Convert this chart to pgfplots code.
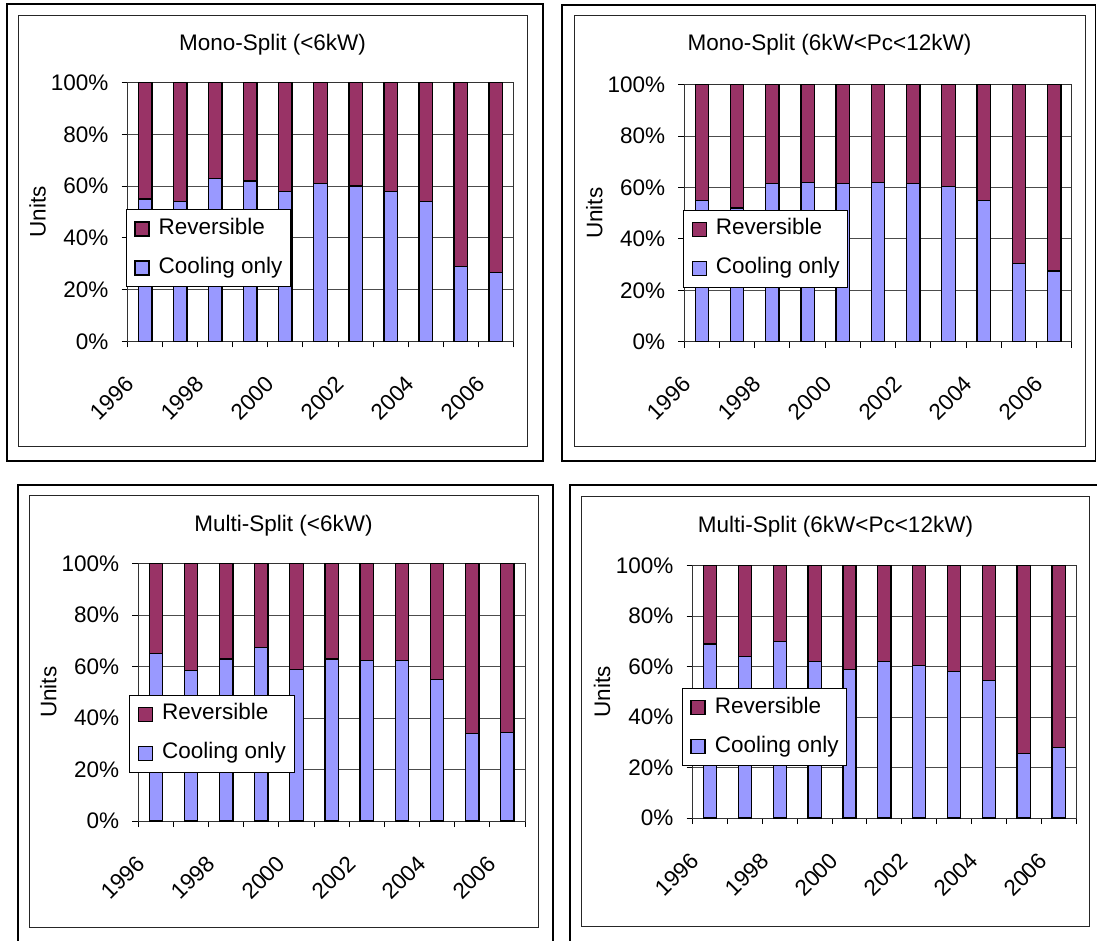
\documentclass[border=0pt]{standalone}
\usepackage{fontspec}
\setmainfont{Liberation Sans}
\usepackage{pgfplots}
\usepackage{pgfplotstable}
\pgfplotsset{compat=1.18}
\definecolor{cool}{HTML}{9999FF}
\definecolor{rev}{HTML}{993366}
\newcommand{\fs}{\fontsize{22.5}{27}\selectfont}

\pgfplotstableread{
x cool rev
0 55 45
1 54 46
2 63 37
3 62 38
4 58 42
5 61 39
6 60 40
7 58 42
8 54 46
9 29 71
10 26.5 73.5
}\monoA
\pgfplotstableread{
x cool rev
0 55 45
1 52 48
2 61.5 38.5
3 62 38
4 61.5 38.5
5 62 38
6 61.5 38.5
7 60.5 39.5
8 55 45
9 30.5 69.5
10 27.5 72.5
}\monoB
\pgfplotstableread{
x cool rev
0 65 35
1 58.5 41.5
2 63 37
3 67.5 32.5
4 59 41
5 63 37
6 62.5 37.5
7 62.5 37.5
8 55 45
9 34 66
10 34.5 65.5
}\multiA
\pgfplotstableread{
x cool rev
0 69 31
1 64 36
2 70 30
3 62 38
4 59 41
5 62 38
6 60.5 39.5
7 58 42
8 54.5 45.5
9 25.5 74.5
10 28 72
}\multiB

\pgfplotsset{
 panel/.style={
   scale only axis,
   xmin=-0.5, xmax=10.5, ymin=0, ymax=100,
   enlargelimits=false,
   ybar stacked, bar width=0.38,
   axis line style={black!80, line width=1pt},
   tick align=outside,
   xtick pos=bottom, ytick pos=left,
   xtick={-0.5,0.5,...,10.5}, xticklabels={},
   major tick length=6pt,
   tick style={black, line width=1pt},
   extra x ticks={0,2,4,6,8,10},
   extra x tick labels={1996,1998,2000,2002,2004,2006},
   extra x tick style={major tick length=0pt, xticklabel style={rotate=45, anchor=north east, inner sep=0pt, xshift=-38.2pt, yshift=-8.5pt}},
   ytick={0,20,...,100},
   yticklabels={0\%,20\%,40\%,60\%,80\%,100\%},
   yticklabel style={anchor=east, inner sep=0pt, xshift=-13pt},
   ymajorgrids, grid style={black!70, line width=1pt},
   tick label style={font=\fs},
   ylabel=Units, ylabel style={font=\fs, anchor=center},
   legend style={draw=black, fill=white, line width=1pt, anchor=north west,
     inner xsep=8pt, inner ysep=8.5pt, row sep=18pt, column sep=9pt, font=\fs,
     nodes={inner sep=0pt, text height=16pt, text depth=5pt}, cells={anchor=west}},
   legend image code/.code={\draw[#1, draw=black, line width=1.3pt] (0pt,-7pt) rectangle (14pt,7pt);},
   reverse legend,
 },
 cbar/.style={fill=cool, draw=black, line width=1.3pt},
 rbar/.style={fill=rev, draw=black, line width=1.3pt},
}

\begin{document}
\begin{tikzpicture}[x=1pt,y=1pt]
\useasboundingbox (0,0) rectangle (1097,-940);
% frames
\draw[line width=1.7pt] (7,-4.3) rectangle (543,-461);
\draw[line width=1pt, black!85] (18.2,-15) rectangle (527,-446.7);
\draw[line width=1.7pt] (562.3,-4.7) rectangle (1095.5,-461);
\draw[line width=1pt, black!85] (574,-15) rectangle (1085,-446.7);
\draw[line width=1.9pt] (17.7,-484.7) rectangle (552.7,-945);
\draw[line width=1pt, black!85] (29,-495.7) rectangle (538,-927.7);
\draw[line width=1.9pt] (570,-485) rectangle (1100,-945);
\draw[line width=1pt, black!85] (581.7,-496) rectangle (1089.3,-926.7);
% titles
\node[font=\fs, anchor=base] at (272.5,-50) {Mono-Split (<6kW)};
\node[font=\fs, anchor=base] at (829.5,-50) {Mono-Split (6kW<Pc<12kW)};
\node[font=\fs, anchor=base] at (283.5,-531.7) {Multi-Split (<6kW)};
\node[font=\fs, anchor=base] at (835.5,-532.3) {Multi-Split (6kW<Pc<12kW)};

\begin{axis}[panel, at={(127.7pt,-341.3pt)}, anchor=south west, width=385.6pt, height=258.6pt,
  legend style={at={(axis description cs:-0.005,0.510)}},
  ylabel style={at={(axis description cs:-0.2334,0.5)}}]
\addplot[cbar] table[x=x,y=cool]{\monoA};
\addplot[rbar] table[x=x,y=rev]{\monoA};
\legend{Cooling only,Reversible}
\end{axis}

\begin{axis}[panel, at={(684.3pt,-341.7pt)}, anchor=south west, width=387.5pt, height=257pt,
  legend style={at={(axis description cs:-0.003,0.5125)}},
  ylabel style={at={(axis description cs:-0.2323,0.5)}}]
\addplot[cbar] table[x=x,y=cool]{\monoB};
\addplot[rbar] table[x=x,y=rev]{\monoB};
\legend{Cooling only,Reversible}
\end{axis}

\begin{axis}[panel, at={(138.3pt,-821pt)}, anchor=south west, width=386.7pt, height=257.3pt,
  legend style={at={(axis description cs:-0.023,0.490)}},
  ylabel style={at={(axis description cs:-0.2327,0.5)}}]
\addplot[cbar] table[x=x,y=cool]{\multiA};
\addplot[rbar] table[x=x,y=rev]{\multiA};
\legend{Cooling only,Reversible}
\end{axis}

\begin{axis}[panel, at={(692.7pt,-818pt)}, anchor=south west, width=383.3pt, height=252.3pt,
  legend style={at={(axis description cs:-0.028,0.514)}},
  ylabel style={at={(axis description cs:-0.2366,0.5)}}]
\addplot[cbar] table[x=x,y=cool]{\multiB};
\addplot[rbar] table[x=x,y=rev]{\multiB};
\legend{Cooling only,Reversible}
\end{axis}
\end{tikzpicture}
\end{document}
